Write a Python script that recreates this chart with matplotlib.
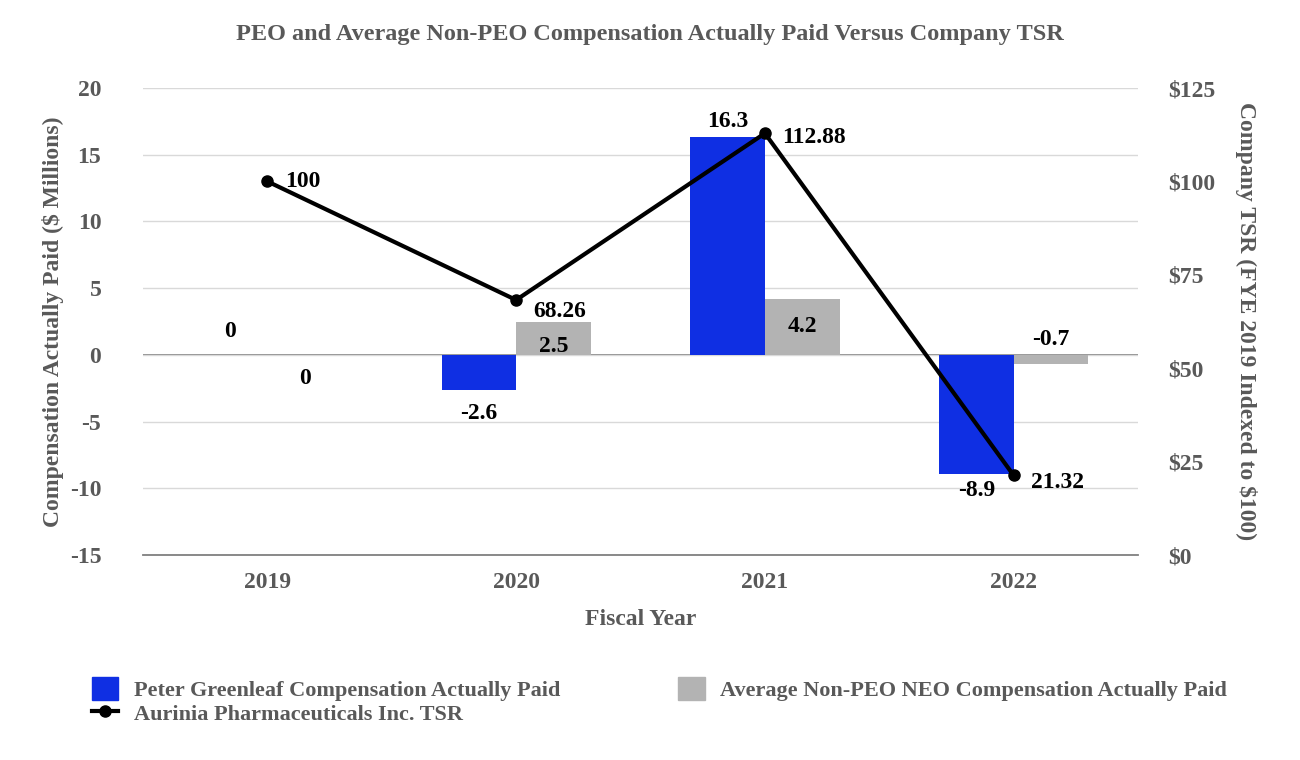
import numpy as np
import matplotlib.pyplot as plt
from matplotlib.lines import Line2D
from matplotlib.patches import Patch

years = ['2019', '2020', '2021', '2022']
peo_cap = [0, -2.6, 16.3, -8.9]
neo_cap = [0, 2.5, 4.2, -0.7]
tsr = [100, 68.26, 112.88, 21.32]

peo_labels = ['0', '-2.6', '16.3', '-8.9']
neo_labels = ['0', '2.5', '4.2', '-0.7']
tsr_labels = ['100', '68.26', '112.88', '21.32']

BLUE = '#0f2fe3'
GRAY_BAR = '#b3b3b3'
TXT = '#595959'

plt.rcParams['font.family'] = ['Liberation Serif', 'DejaVu Serif']
plt.rcParams['font.weight'] = 'bold'
plt.rcParams['axes.unicode_minus'] = False

fig = plt.figure(figsize=(13, 7.6), dpi=100)
ax = fig.add_axes([0.11, 0.2697, 0.7654, 0.6145])
ax2 = ax.twinx()

x = np.arange(len(years))
w = 0.3
ax.bar(x - w / 2, peo_cap, w, color=BLUE, zorder=2)
ax.bar(x + w / 2, neo_cap, w, color=GRAY_BAR, zorder=2)

ax.set_xlim(-0.5, 3.5)
ax.set_ylim(-15, 20)
ax.set_yticks(np.arange(-15, 21, 5))
ax.grid(axis='y', color='#d9d9d9', lw=1, zorder=0)
ax.axhline(0, color='#808080', lw=1.3, zorder=1)
for s in ['top', 'right', 'left']:
    ax.spines[s].set_visible(False)
ax.spines['bottom'].set_color('#808080')
ax.spines['bottom'].set_linewidth(1.3)
ax.tick_params(length=0, labelsize=17, labelcolor=TXT, pad=30)
ax.tick_params(axis='x', pad=12)
ax.set_xticks(x)
ax.set_xticklabels(years)
ax.set_xlabel('Fiscal Year', fontsize=17, color=TXT, fontweight='bold', labelpad=12)
ax.set_ylabel('Compensation Actually Paid ($ Millions)', fontsize=17, color=TXT,
              fontweight='bold', labelpad=4)

# bar labels
lab = dict(fontsize=17, fontweight='bold', color='black', ha='center')
ax.text(x[0] - w / 2, 1.0, peo_labels[0], va='bottom', **lab)
ax.text(x[0] + w / 2, -1.0, neo_labels[0], va='top', **lab)
ax.text(x[1] - w / 2, peo_cap[1] - 1.0, peo_labels[1], va='top', **lab)
ax.text(x[1] + w / 2, 0.6, neo_labels[1], va='center', **lab)
ax.text(x[2] - w / 2, peo_cap[2] + 0.4, peo_labels[2], va='bottom', **lab)
ax.text(x[2] + w / 2, neo_cap[2] / 2, neo_labels[2], va='center', **lab)
ax.text(x[3] - w / 2, peo_cap[3] - 0.5, peo_labels[3], va='top', **lab)
ax.text(x[3] + w / 2, 0.4, neo_labels[3], va='bottom', **lab)

ax2.plot(x, tsr, color='black', lw=3, marker='o', ms=8, zorder=5)
ax2.set_ylim(0, 125)
ax2.set_yticks(np.arange(0, 126, 25))
ax2.set_yticklabels([f'${v}' for v in range(0, 126, 25)])
for s in ['top', 'right', 'left', 'bottom']:
    ax2.spines[s].set_visible(False)
ax2.tick_params(length=0, labelsize=17, labelcolor=TXT, pad=22)
ax2.set_ylabel('Company TSR (FYE 2019 Indexed to $100)', fontsize=17, color=TXT,
               fontweight='bold', rotation=270, labelpad=30)

offs = [(0.07, 0), (0.07, -3), (0.07, -1), (0.07, -2)]
for i, (dx, dy) in enumerate(offs):
    ax2.text(x[i] + dx, tsr[i] + dy, tsr_labels[i], fontsize=17, fontweight='bold',
             color='black', ha='left', va='center')

fig.suptitle('PEO and Average Non-PEO Compensation Actually Paid Versus Company TSR',
             x=0.5, y=0.968, fontsize=17.5, color=TXT, fontweight='bold')

handles = [Patch(color=BLUE), Patch(color=GRAY_BAR),
           Line2D([], [], color='black', lw=3, marker='o', ms=8)]
names = ['Peter Greenleaf Compensation Actually Paid',
         'Average Non-PEO NEO Compensation Actually Paid',
         'Aurinia Pharmaceuticals Inc. TSR']
leg = fig.legend([handles[0], handles[2], handles[1]], [names[0], names[2], names[1]],
                 ncol=2, loc='upper left', bbox_to_anchor=(0.055, 0.135), frameon=False,
                 fontsize=16, handlelength=1.2, handleheight=1.2, columnspacing=5.3,
                 labelspacing=0.0, handletextpad=0.7)
for t in leg.get_texts():
    t.set_color(TXT)
    t.set_fontweight('bold')

fig.savefig('out.png', dpi=100)
